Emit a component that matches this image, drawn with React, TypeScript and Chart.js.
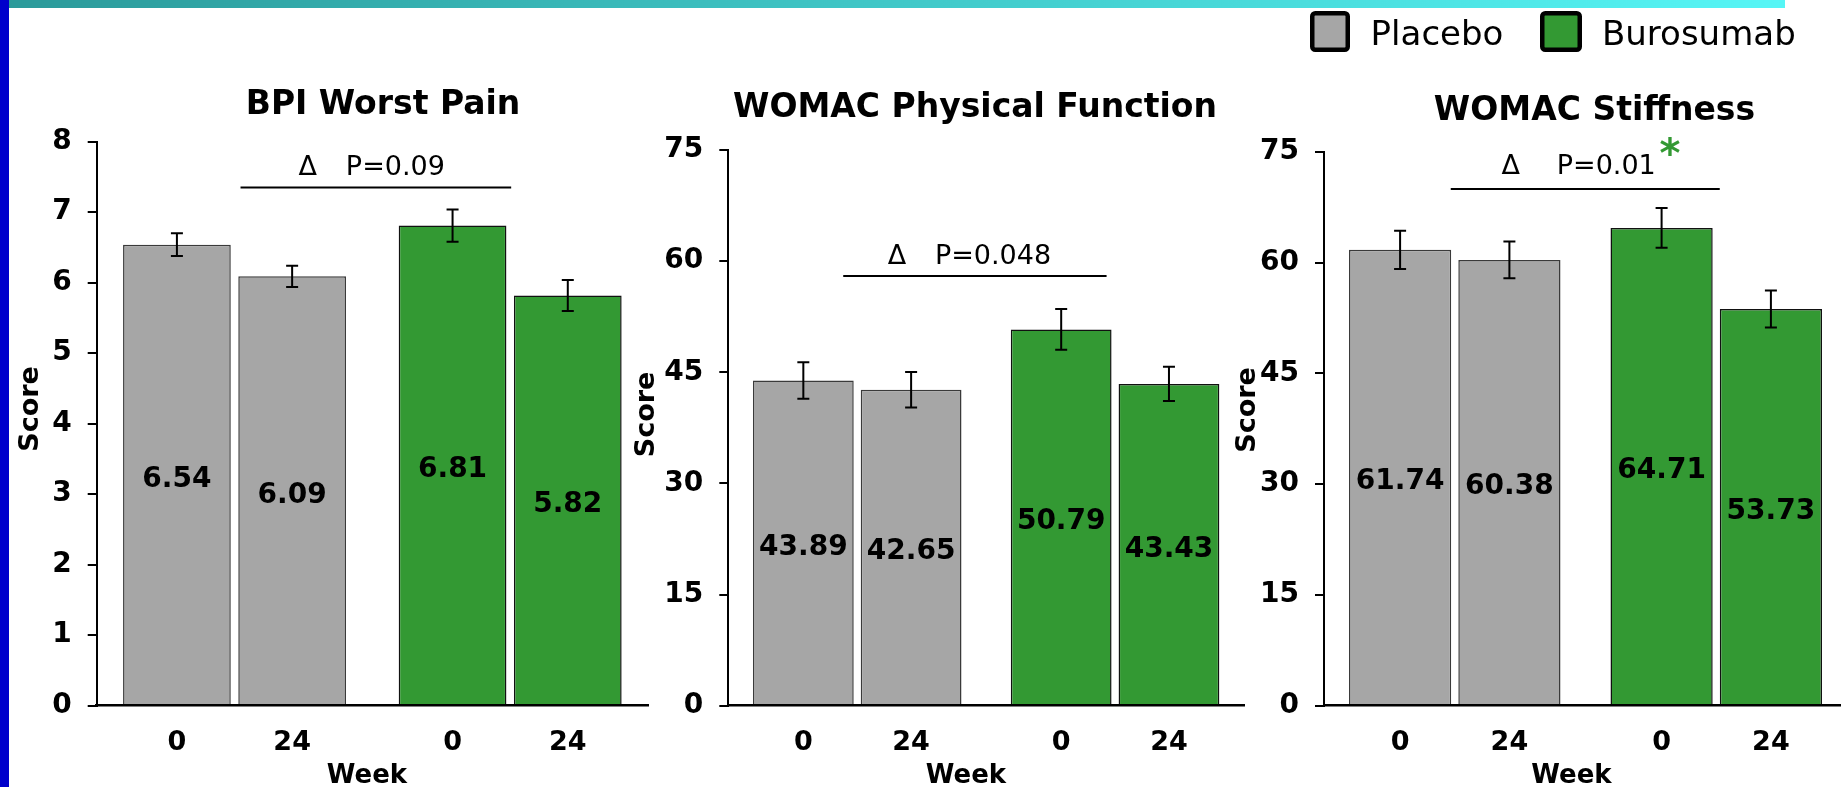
import React, { useEffect, useRef } from "react";
import { Chart, registerables } from "chart.js";

Chart.register(...registerables);

const FONT = "'DejaVu Sans', sans-serif";
Chart.defaults.font.family = FONT;

// ---------- data ----------
const GROUPS = ["Placebo", "Burosumab"];
const WEEKS = ["0", "24"];
const GROUP_COLORS = ["#a6a6a6", "#339933"];
const GROUP_BORDERS = ["#3a3a3a", "#111111"];

const BPI_TITLE = "BPI Worst Pain";
const BPI_WEEK0 = [6.54, 6.81];
const BPI_WEEK24 = [6.09, 5.82];
const BPI_SE_WEEK0 = [0.16, 0.23];
const BPI_SE_WEEK24 = [0.15, 0.22];
const BPI_Y_RANGE = [0, 8];
const BPI_Y_STEP = 1;
const BPI_P = "P=0.09";
const BPI_BRACKET = 7.35;

const PF_TITLE = "WOMAC Physical Function";
const PF_WEEK0 = [43.89, 50.79];
const PF_WEEK24 = [42.65, 43.43];
const PF_SE_WEEK0 = [2.45, 2.75];
const PF_SE_WEEK24 = [2.4, 2.3];
const PF_Y_RANGE = [0, 75];
const PF_Y_STEP = 15;
const PF_P = "P=0.048";
const PF_BRACKET = 58;

const ST_TITLE = "WOMAC Stiffness";
const ST_WEEK0 = [61.74, 64.71];
const ST_WEEK24 = [60.38, 53.73];
const ST_SE_WEEK0 = [2.6, 2.7];
const ST_SE_WEEK24 = [2.5, 2.5];
const ST_Y_RANGE = [0, 75];
const ST_Y_STEP = 15;
const ST_P = "P=0.01";
const ST_BRACKET = 70;

const Y_LABEL = "Score";
const X_LABEL = "Week";

// ---------- panels (data + layout/style) ----------
const PANELS = [
  {
    title: BPI_TITLE, week0: BPI_WEEK0, week24: BPI_WEEK24, se0: BPI_SE_WEEK0, se24: BPI_SE_WEEK24,
    yRange: BPI_Y_RANGE, yStep: BPI_Y_STEP, pText: BPI_P, bracket: BPI_BRACKET, star: false, legend: false,
    L: { left: 10, w: 680, yw: 86.7, padTop: 141.7, padRight: 42, xh: 81.3,
      titleX: 383, titleY: 101.5, scoreX: 28, scoreY: 409, weekX: 367,
      br0: 6, br1: 1, deltaDx: -68, pDx: -30, textDy: -22.3 },
  },
  {
    title: PF_TITLE, week0: PF_WEEK0, week24: PF_WEEK24, se0: PF_SE_WEEK0, se24: PF_SE_WEEK24,
    yRange: PF_Y_RANGE, yStep: PF_Y_STEP, pText: PF_P, bracket: PF_BRACKET, star: false, legend: false,
    L: { left: 620, w: 650, yw: 108.3, padTop: 150, padRight: 26, xh: 81.3,
      titleX: 975, titleY: 105, scoreX: 644, scoreY: 414.5, weekX: 966,
      br0: -14, br1: -8.5, deltaDx: -78, pDx: -40, textDy: -21.7 },
  },
  {
    title: ST_TITLE, week0: ST_WEEK0, week24: ST_WEEK24, se0: ST_SE_WEEK0, se24: ST_SE_WEEK24,
    yRange: ST_Y_RANGE, yStep: ST_Y_STEP, pText: ST_P, bracket: ST_BRACKET, star: true, legend: true,
    L: { left: 1220, w: 640, yw: 104, padTop: 152, padRight: 13, xh: 81.5,
      titleX: 1594.5, titleY: 107.5, scoreX: 1245, scoreY: 410, weekX: 1571.5,
      br0: -4, br1: 3.5, deltaDx: -74.5, pDx: -28.5, textDy: -24.7 },
  },
];

function capText(ctx: CanvasRenderingContext2D, text: string, x: number, cy: number, size: number,
  weight: string, align: CanvasTextAlign = "center", color = "#000") {
  ctx.font = `${weight} ${size}px ${FONT}`;
  ctx.textAlign = align;
  ctx.textBaseline = "alphabetic";
  ctx.fillStyle = color;
  ctx.fillText(text, x, cy + size * 0.3645);
}

function makeDecor(p: any) {
  const L = p.L;
  const ox = L.left;
  return {
    id: "decor",
    afterDatasetsDraw(chart: any) {
      const ctx = chart.ctx as CanvasRenderingContext2D;
      const ys = chart.scales.y;
      const seArr = [p.se0, p.se24];
      ctx.save();
      chart.data.datasets.forEach((ds: any, di: number) => {
        const meta = chart.getDatasetMeta(di);
        meta.data.forEach((bar: any, j: number) => {
          const v = ds.data[j];
          const se = seArr[di][j];
          // value label in bar middle
          capText(ctx, v.toFixed(2), bar.x, (bar.y + bar.base) / 2 + 2, 28, "bold");
          // week label below the bar
          capText(ctx, WEEKS[di], bar.x, 740, 27, "bold");
          // error bar
          const yt = ys.getPixelForValue(v + se);
          const yb = ys.getPixelForValue(v - se);
          ctx.strokeStyle = "#000";
          ctx.lineWidth = 2;
          ctx.beginPath();
          ctx.moveTo(bar.x, yt); ctx.lineTo(bar.x, yb);
          ctx.moveTo(bar.x - 6, yt); ctx.lineTo(bar.x + 6, yt);
          ctx.moveTo(bar.x - 6, yb); ctx.lineTo(bar.x + 6, yb);
          ctx.stroke();
        });
      });
      ctx.restore();
    },
    afterDraw(chart: any) {
      const ctx = chart.ctx as CanvasRenderingContext2D;
      const xs = chart.scales.x;
      const ys = chart.scales.y;
      ctx.save();
      // title
      capText(ctx, p.title, L.titleX - ox, L.titleY, 33, "bold");
      // x title
      capText(ctx, X_LABEL, L.weekX - ox, 773.3, 26, "bold");
      // y title (rotated)
      ctx.save();
      ctx.translate(L.scoreX - ox + 27 * 0.3645, L.scoreY);
      ctx.rotate(-Math.PI / 2);
      ctx.font = `bold 27px ${FONT}`;
      ctx.textAlign = "center";
      ctx.textBaseline = "alphabetic";
      ctx.fillStyle = "#000";
      ctx.fillText(Y_LABEL, 0, 0);
      ctx.restore();
      // comparison bracket
      const x0 = xs.getPixelForValue(0) + L.br0;
      const x1 = xs.getPixelForValue(1) + L.br1;
      const yl = ys.getPixelForValue(p.bracket);
      ctx.strokeStyle = "#000";
      ctx.lineWidth = 2;
      ctx.beginPath();
      ctx.moveTo(x0, yl); ctx.lineTo(x1, yl);
      ctx.stroke();
      const mid = (x0 + x1) / 2;
      capText(ctx, "\u0394", mid + L.deltaDx, yl + L.textDy, 27, "normal");
      capText(ctx, p.pText, mid + L.pDx, yl + L.textDy, 27, "normal", "left");
      if (p.star) {
        capText(ctx, "*", 1670 - ox, 146 + 6, 40, "bold", "center", GROUP_COLORS[1]);
      }
      if (p.legend) {
        const boxes = [
          { x: 1310, w: 40, tx: 1370.6 },
          { x: 1540, w: 42, tx: 1602 },
        ];
        GROUPS.forEach((g, i) => {
          const b = boxes[i];
          const bw = 4.5;
          ctx.beginPath();
          const rx = b.x - ox + bw / 2, ry = 11 + bw / 2, rw = b.w - bw, rh = 41 - bw;
          if ((ctx as any).roundRect) (ctx as any).roundRect(rx, ry, rw, rh, 3);
          else ctx.rect(rx, ry, rw, rh);
          ctx.fillStyle = GROUP_COLORS[i];
          ctx.fill();
          ctx.lineWidth = bw;
          ctx.strokeStyle = "#000";
          ctx.stroke();
          capText(ctx, g, b.tx - ox, 33, 34, "normal", "left");
        });
      }
      ctx.restore();
    },
  };
}

function buildConfig(p: any): any {
  const L = p.L;
  return {
    type: "bar",
    data: {
      labels: GROUPS,
      datasets: WEEKS.map((w, i) => ({
        label: `Week ${w}`,
        data: i === 0 ? p.week0 : p.week24,
        backgroundColor: GROUP_COLORS,
        borderColor: GROUP_BORDERS,
        borderWidth: 1.5,
        categoryPercentage: 0.836,
        barPercentage: 0.935,
      })),
    },
    options: {
      animation: false,
      responsive: false,
      devicePixelRatio: 1,
      events: [],
      layout: { padding: { left: 0, right: L.padRight, top: L.padTop, bottom: 0 } },
      plugins: {
        legend: { display: false },
        title: { display: false },
        tooltip: { enabled: false },
      },
      scales: {
        x: {
          type: "category",
          grid: { display: false },
          ticks: { display: false },
          border: { display: true, color: "#000", width: 2.5, z: 1 },
          afterFit: (s: any) => { s.height = L.xh; },
        },
        y: {
          min: p.yRange[0],
          max: p.yRange[1],
          ticks: {
            stepSize: p.yStep,
            color: "#000",
            padding: 16,
            font: { family: FONT, size: 28, weight: "bold" },
          },
          grid: { drawOnChartArea: false, drawTicks: true, tickLength: 9, color: "#000", lineWidth: 2 },
          border: { display: true, color: "#000", width: 2 },
          afterFit: (s: any) => { s.width = L.yw; },
        },
      },
    },
    plugins: [makeDecor(p)],
  };
}

function Panel({ p }: { p: any }) {
  const ref = useRef<HTMLCanvasElement>(null);
  useEffect(() => {
    const chart = new Chart(ref.current as HTMLCanvasElement, buildConfig(p));
    return () => chart.destroy();
  }, [p]);
  return (
    <canvas
      ref={ref}
      width={p.L.w}
      height={787}
      style={{ position: "absolute", left: p.L.left, top: 0, width: p.L.w, height: 787 }}
    />
  );
}

export default function App() {
  return (
    <div style={{ position: "fixed", left: 0, top: 0, width: 1841, height: 787, overflow: "hidden", background: "#fff" }}>
      {PANELS.map((p, i) => <Panel key={i} p={p} />)}
      <div style={{ position: "absolute", left: 0, top: 0, width: 9, height: 787, background: "#0000cc" }} />
      <div style={{ position: "absolute", left: 9, top: 0, width: 1776, height: 8, background: "linear-gradient(to right, #2b9a9a, #56f6f6)" }} />
    </div>
  );
}
